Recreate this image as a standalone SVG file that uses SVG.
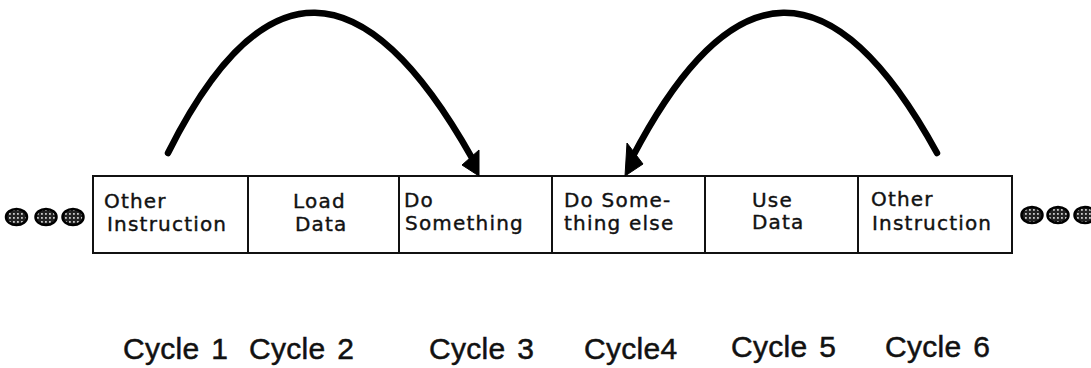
<svg xmlns="http://www.w3.org/2000/svg" width="1091" height="368" viewBox="0 0 1091 368">
<style>
  .cell { fill: #fff; stroke: #111; stroke-width: 2; }
  .lbl { font-family: "DejaVu Sans", sans-serif; font-size: 20px; letter-spacing: 1.2px; fill: #111; stroke: #111; stroke-width: 0.4; }
  .cyc { font-family: "Liberation Sans", Arial, sans-serif; font-size: 30px; letter-spacing: 0.3px; word-spacing: 3px; fill: #111; stroke: #111; stroke-width: 0.5; }
  .arc { fill: none; stroke: #000; stroke-width: 6.5; stroke-linecap: round; }
  .head { fill: #000; stroke: #000; stroke-width: 1; stroke-linejoin: miter; }
  .dot { fill: url(#hatch); stroke: #000; stroke-width: 2.5; }
</style>
<defs>
  <pattern id="hatch" width="4" height="4" patternUnits="userSpaceOnUse">
    <rect width="4" height="4" fill="#222"/>
    <rect x="1" y="1" width="1.8" height="1.8" fill="#c8c8c8"/>
  </pattern>
</defs>
<rect width="1091" height="368" fill="#fff"/>

<g id="dots-left">
  <ellipse class="dot" cx="16.5" cy="217" rx="10.5" ry="8"/>
  <ellipse class="dot" cx="46" cy="217" rx="10.5" ry="8"/>
  <ellipse class="dot" cx="73" cy="217" rx="10.5" ry="8"/>
</g>
<g id="dots-right">
  <ellipse class="dot" cx="1032" cy="215" rx="10.5" ry="8"/>
  <ellipse class="dot" cx="1058" cy="215" rx="10.5" ry="8"/>
  <ellipse class="dot" cx="1085" cy="215" rx="10.5" ry="8"/>
</g>

<g id="cell1">
  <rect class="cell" x="93" y="176" width="155" height="77"/>
  <text class="lbl" x="104" y="208">Other</text>
  <text class="lbl" x="107" y="231">Instruction</text>
</g>
<g id="cell2">
  <rect class="cell" x="248" y="176" width="151" height="77"/>
  <text class="lbl" x="293" y="208">Load</text>
  <text class="lbl" x="295" y="231">Data</text>
</g>
<g id="cell3">
  <rect class="cell" x="399" y="176" width="153" height="77"/>
  <text class="lbl" x="404" y="207">Do</text>
  <text class="lbl" x="405" y="230">Something</text>
</g>
<g id="cell4">
  <rect class="cell" x="552" y="176" width="153" height="77"/>
  <text class="lbl" x="564" y="207">Do Some-</text>
  <text class="lbl" x="564" y="230">thing else</text>
</g>
<g id="cell5">
  <rect class="cell" x="705" y="176" width="153" height="77"/>
  <text class="lbl" x="752" y="207">Use</text>
  <text class="lbl" x="752" y="229">Data</text>
</g>
<g id="cell6">
  <rect class="cell" x="858" y="176" width="154" height="77"/>
  <text class="lbl" x="871" y="206">Other</text>
  <text class="lbl" x="872" y="230">Instruction</text>
</g>

<g id="connectors">
  <path class="arc" d="M168,153 Q310,-130 472,158"/>
  <polygon class="head" points="479,176 462,165 479,150"/>
  <path class="arc" d="M937,153 Q782,-130 632,158"/>
  <polygon class="head" points="625,176 627,143 643,164"/>
</g>

<g id="cycles">
  <text class="cyc" x="123" y="359">Cycle 1</text>
  <text class="cyc" x="249" y="359">Cycle 2</text>
  <text class="cyc" x="429" y="359">Cycle 3</text>
  <text class="cyc" x="584" y="359">Cycle4</text>
  <text class="cyc" x="731" y="357">Cycle 5</text>
  <text class="cyc" x="885" y="357">Cycle 6</text>
</g>
</svg>
